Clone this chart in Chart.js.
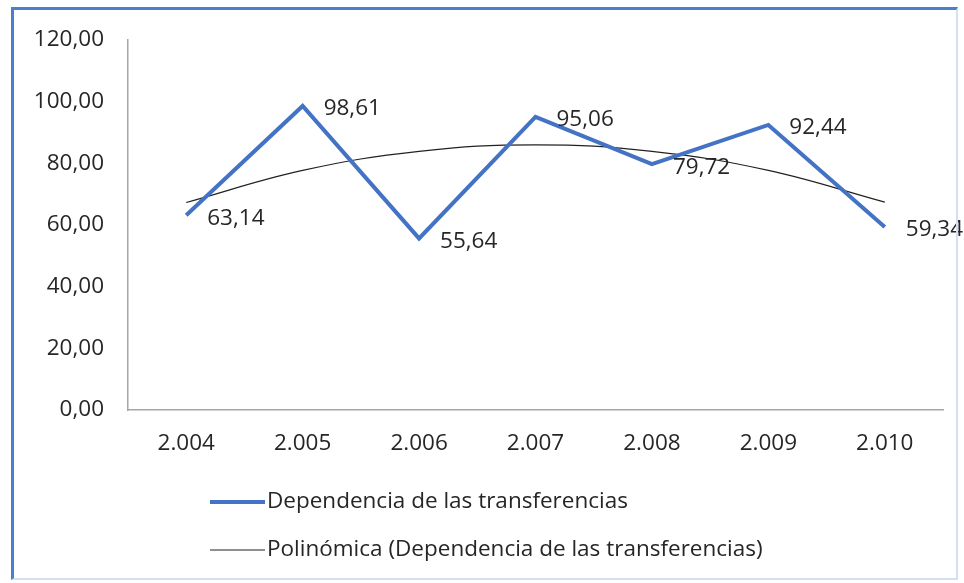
<!DOCTYPE html>
<html>
<head>
<meta charset="utf-8">
<script src="https://cdn.jsdelivr.net/npm/chart.js@4.4.1/dist/chart.umd.min.js"></script>
<style>
    html, body { margin: 0; padding: 0; background: #fff; }
    #wrap { position: relative; width: 964px; height: 583px; }
    #frame {
        position: absolute; left: 11px; top: 7px; width: 942px; height: 568px;
        border-left: 3px solid #4a7ecf; border-top: 3px solid #4a7ecf;
        border-right: 2px solid #d3e0f3; border-bottom: 2px solid #d3e0f3;
        pointer-events: none;
    }
</style>
</head>
<body>
<div id="wrap">
    <canvas id="chart"></canvas>
    <div id="frame"></div>
</div>
<script>
// Datos del gráfico
const categories = ['2.004', '2.005', '2.006', '2.007', '2.008', '2.009', '2.010'];
const dependencia = [63.14, 98.61, 55.64, 95.06, 79.72, 92.44, 59.34];
// Línea de tendencia polinómica
const tendencia = [67.3, 77.7, 83.9, 86.0, 83.9, 77.7, 67.4];
const yTicks = [0, 20, 40, 60, 80, 100, 120];

const fontFamily = '"Open Sans", sans-serif';
const fontSize = 22.5;
const textColor = '#262626';

function formatoComa(v) {
    return v.toFixed(2).replace('.', ',');
}

// Etiquetas de datos a la derecha de cada punto
const etiquetasPlugin = {
    id: 'etiquetas',
    afterDatasetsDraw(chart) {
        const ctx = chart.ctx;
        const meta = chart.getDatasetMeta(0);
        ctx.save();
        ctx.font = fontSize + 'px ' + fontFamily;
        ctx.fillStyle = textColor;
        ctx.textAlign = 'left';
        ctx.textBaseline = 'middle';
        meta.data.forEach(function(pt, i) {
            ctx.fillText(formatoComa(dependencia[i]), pt.x + 21, pt.y + 3);
        });
        ctx.restore();
    }
};

// Leyenda vertical dibujada a mano
const leyendaPlugin = {
    id: 'leyenda',
    afterDraw(chart) {
        const ctx = chart.ctx;
        const rows = [502, 550];
        ctx.save();
        chart.data.datasets.forEach(function(ds, i) {
            const y = rows[i];
            ctx.beginPath();
            ctx.strokeStyle = ds.borderColor;
            ctx.lineWidth = ds.borderWidth;
            ctx.moveTo(210, y);
            ctx.lineTo(265, y);
            ctx.stroke();
            ctx.font = fontSize + 'px ' + fontFamily;
            ctx.fillStyle = textColor;
            ctx.textAlign = 'left';
            ctx.textBaseline = 'middle';
            ctx.fillText(ds.label, 267, y);
        });
        ctx.restore();
    }
};

document.addEventListener('DOMContentLoaded', function() {
    const ctx = document.getElementById('chart');
    new Chart(ctx, {
        type: 'line',
        data: {
            labels: categories,
            datasets: [{
                label: 'Dependencia de las transferencias',
                data: dependencia,
                borderColor: '#4472c4',
                borderWidth: 4,
                pointRadius: 0,
                tension: 0,
                fill: false
            }, {
                label: 'Polinómica (Dependencia de las transferencias)',
                data: tendencia,
                borderColor: '#222222',
                borderWidth: 1.2,
                pointRadius: 0,
                tension: 0.4,
                fill: false
            }]
        },
        options: {
            responsive: true,
            maintainAspectRatio: false,
            animation: false,
            layout: {
                padding: { top: 40, right: 21, bottom: 0, left: 0 }
            },
            plugins: {
                legend: { display: false },
                tooltip: { enabled: false }
            },
            scales: {
                x: {
                    offset: true,
                    grid: { display: true, drawOnChartArea: false, drawTicks: false },
                    border: { display: true, color: '#a6a6a6', width: 1.5 },
                    ticks: {
                        color: textColor,
                        padding: 20,
                        font: { family: fontFamily, size: fontSize }
                    },
                    afterFit: function(scale) { scale.height = 173; }
                },
                y: {
                    min: 0,
                    max: 120,
                    afterBuildTicks: function(scale) {
                        scale.ticks = yTicks.map(function(v) { return { value: v }; });
                    },
                    grid: { display: true, drawOnChartArea: false, drawTicks: false },
                    border: { display: true, color: '#a6a6a6', width: 1.5 },
                    ticks: {
                        color: textColor,
                        padding: 24,
                        font: { family: fontFamily, size: fontSize },
                        callback: function(v) { return formatoComa(v); }
                    },
                    afterFit: function(scale) { scale.width = 128; }
                }
            }
        },
        plugins: [etiquetasPlugin, leyendaPlugin]
    });
});
</script>
</body>
</html>
